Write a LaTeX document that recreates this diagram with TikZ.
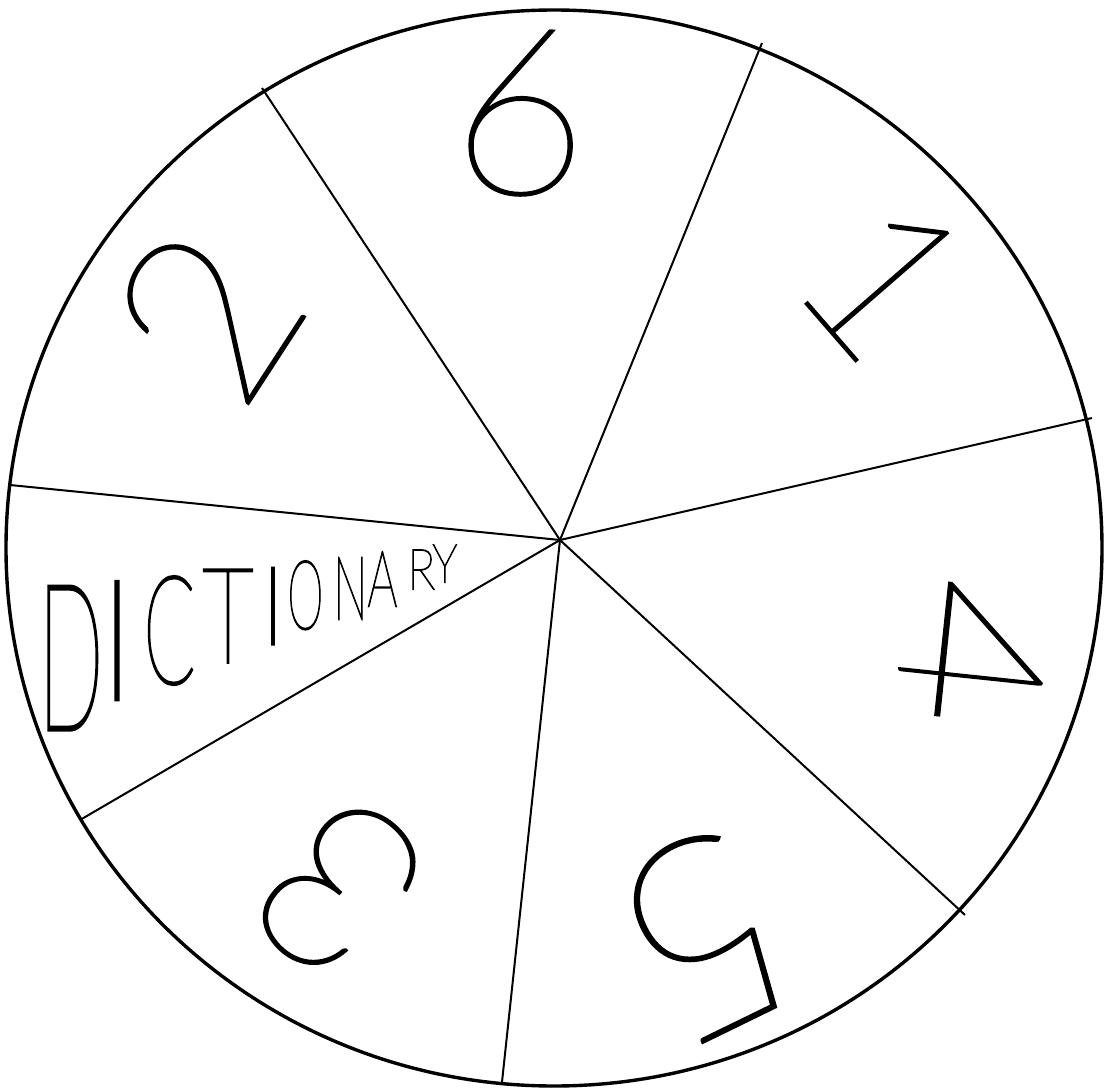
\documentclass[tikz,border=0pt]{standalone}
\usepackage{fontspec}
\usepackage{graphicx}
\IfFontExistsTF{Lato Thin}{%
  \newfontfamily\hand{Lato Thin}[FakeBold=1.1]%
  \newfontfamily\handl{Lato Thin}[FakeBold=2]}{%
  \newfontfamily\hand{Liberation Sans}%
  \newfontfamily\handl{Liberation Sans}}
\begin{document}
\begin{tikzpicture}[x=0.5pt,y=-0.5pt]
\useasboundingbox (0,0) rectangle (1105,1092);
\tikzset{
  rim/.style={line width=1.7pt},
  spoke/.style={line width=1pt},
  digit/.style={inner sep=0pt, font=\hand\fontsize{118}{118}\selectfont},
  letter/.style={inner sep=0pt, font=\handl\fontsize{60}{60}\selectfont}
}
\coordinate (c) at (560,540);
\draw[rim] (554,548) ellipse [x radius=548, y radius=538];
\coordinate (p1) at (262,88);
\coordinate (p2) at (762,43);
\coordinate (p3) at (1092,418);
\coordinate (p4) at (965,915);
\coordinate (p5) at (502,1082);
\coordinate (p6) at (80,820);
\coordinate (p7) at (10,485);
\foreach \p in {p1,p2,p3,p4,p5,p6,p7} \draw[spoke] (c) -- (\p);
% numbers
\node[digit, rotate=-5] (six) at (522,112) {6};
\node[digit, rotate=-49, font=\hand\fontsize{109}{109}\selectfont] (one) at (885,278) {1};
\node[digit, rotate=-6, font=\hand\fontsize{95}{95}\selectfont] (four) at (972,652) {\scalebox{-1.45}[1]{4}};
\node[digit, rotate=-154, font=\hand\fontsize{135}{135}\selectfont] (five) at (705,935) {5};
\node[digit, rotate=139, font=\hand\fontsize{118}{118}\selectfont] (three) at (338,888) {3};
\node[digit, rotate=57, font=\hand\fontsize{118}{118}\selectfont] (two) at (207,314) {2};
% DICTIONARY
\node[letter, anchor=south west] (l1) at (38,730) {\resizebox{32.5pt}{71.5pt}{D}};
\node[letter, anchor=south] (l2) at (117,700) {\resizebox{!}{59pt}{I}};
\node[letter, anchor=south west] (l3) at (143,685) {\resizebox{26pt}{53.5pt}{C}};
\node[letter, anchor=south west] (l4) at (202,663) {\resizebox{25.5pt}{46.5pt}{T}};
\node[letter, anchor=south] (l5) at (273,645) {\resizebox{!}{38.5pt}{I}};
\node[letter, anchor=south west] (l6) at (287,630) {\resizebox{18pt}{34pt}{O}};
\node[letter, anchor=south west] (l7) at (333,620) {\resizebox{17pt}{31pt}{N}};
\node[letter, anchor=south west] (l8) at (367,607) {\resizebox{15pt}{27.5pt}{A}};
\node[letter, anchor=south west] (l9) at (407,590) {\resizebox{14pt}{20pt}{R}};
\node[letter, anchor=south west] (l10) at (432,583) {\resizebox{12.5pt}{19pt}{Y}};
\end{tikzpicture}
\end{document}
